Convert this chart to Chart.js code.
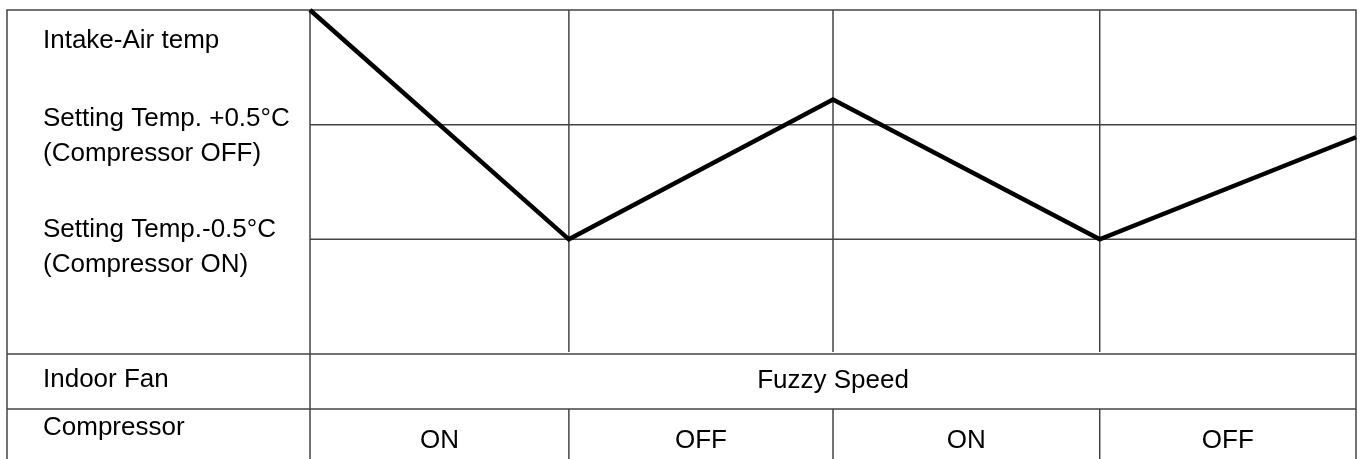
<!DOCTYPE html>
<html>
<head>
<meta charset="utf-8">
<script src="https://cdn.jsdelivr.net/npm/chart.js@4.4.1/dist/chart.umd.min.js"></script>
<style>
  html, body { margin: 0; padding: 0; background: #fff; }
  #wrap { width: 1361px; height: 459px; position: relative; }
</style>
</head>
<body>
<div id="wrap"><canvas id="grafico" width="1361" height="459"></canvas></div>
<script>
/* Ciclo de temperatura do ar de entrada: compressor liga/desliga */
const cycleTimes = [0, 0.99, 2, 3.02, 4];           // limites das fases (eixo x)
const intakeTemp = [1.5, -0.5, 0.72, -0.5, 0.39];   // temperatura relativa ao ajuste (°C)
const thresholds = [0.5, -0.5];                     // linhas +0.5 / -0.5
const tempLabels = [
  ["Intake-Air temp"],
  ["Setting Temp. +0.5°C", "(Compressor OFF)"],
  ["Setting Temp.-0.5°C", "(Compressor ON)"],
];
const rowLabels = ["Indoor Fan", "Compressor"];
const fanState = "Fuzzy Speed";
const compressorStates = ["ON", "OFF", "ON", "OFF"];

const FONTE = '"Liberation Sans", Arial, sans-serif';
const COR_GRADE = "#444";

function texto(ctx, s, x, y, align) {
  ctx.textAlign = align || "left";
  ctx.fillText(s, x, y);
}

const tabela = {
  id: "tabela",
  beforeDatasetsDraw(chart) {
    const { ctx, chartArea: a, scales: { x, y } } = chart;
    const esq = 7, dir = a.right, base = chart.height;
    const linhaFan = a.bottom, linhaComp = a.bottom + 55;
    ctx.save();
    ctx.strokeStyle = COR_GRADE;
    ctx.lineWidth = 1.5;
    ctx.beginPath();
    // contorno
    ctx.moveTo(esq, base); ctx.lineTo(esq, a.top); ctx.lineTo(dir, a.top); ctx.lineTo(dir, base);
    // coluna de rótulos
    ctx.moveTo(a.left, a.top); ctx.lineTo(a.left, base);
    // linhas das faixas
    ctx.moveTo(esq, linhaFan); ctx.lineTo(dir, linhaFan);
    ctx.moveTo(esq, linhaComp); ctx.lineTo(dir, linhaComp);
    thresholds.forEach(v => {
      const py = y.getPixelForValue(v);
      ctx.moveTo(a.left, py); ctx.lineTo(dir, py);
    });
    cycleTimes.slice(1, -1).forEach(t => {
      const px = x.getPixelForValue(t);
      ctx.moveTo(px, a.top); ctx.lineTo(px, a.bottom - 2);
      ctx.moveTo(px, linhaComp); ctx.lineTo(px, base);
    });
    ctx.stroke();
    ctx.restore();
  },
  afterDraw(chart) {
    const { ctx, chartArea: a, scales: { x, y } } = chart;
    ctx.save();
    ctx.fillStyle = "#000";
    ctx.font = "26px " + FONTE;
    ctx.textBaseline = "alphabetic";
    const baseLabel = [48, 126, 237];
    tempLabels.forEach((linhas, i) => {
      linhas.forEach((s, j) => texto(ctx, s, 43, baseLabel[i] + j * 35));
    });
    texto(ctx, rowLabels[0], 43, 387);
    texto(ctx, rowLabels[1], 43, 435);
    texto(ctx, fanState, x.getPixelForValue(2), 388, "center");
    compressorStates.forEach((s, i) => {
      const cx = (x.getPixelForValue(cycleTimes[i]) + x.getPixelForValue(cycleTimes[i + 1])) / 2;
      texto(ctx, s, cx, 448, "center");
    });
    ctx.restore();
  },
};

new Chart(document.getElementById("grafico"), {
  type: "line",
  data: {
    datasets: [{
      data: cycleTimes.map((t, i) => ({ x: t, y: intakeTemp[i] })),
      borderColor: "#000",
      borderWidth: 4.5,
      pointRadius: 0,
      tension: 0,
      clip: false,
    }],
  },
  options: {
    responsive: false,
    animation: false,
    layout: { padding: { left: 310, right: 5, top: 10, bottom: 105 } },
    plugins: { legend: { display: false }, tooltip: { enabled: false } },
    scales: {
      x: { type: "linear", min: 0, max: 4, display: false },
      y: { type: "linear", min: -1.5, max: 1.5, display: false },
    },
  },
  plugins: [tabela],
});
</script>
</body>
</html>
